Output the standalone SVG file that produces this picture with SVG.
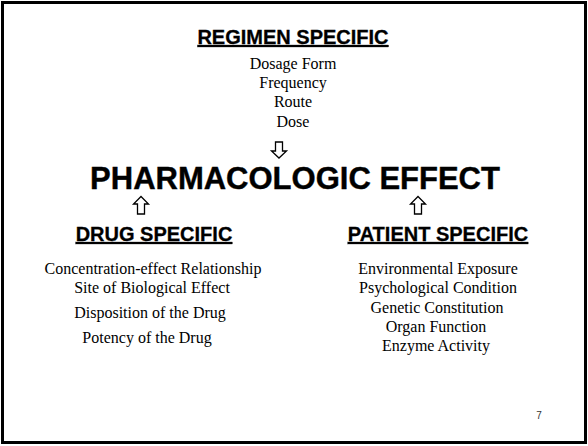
<svg xmlns="http://www.w3.org/2000/svg" width="588" height="446" viewBox="0 0 588 446">
<style>
.h{font-family:"Liberation Sans",Arial,sans-serif;font-weight:bold;font-size:20px;fill:#000;stroke:#000;stroke-width:0.3;text-anchor:middle;text-decoration:underline}
.big{font-family:"Liberation Sans",Arial,sans-serif;font-weight:bold;font-size:31px;fill:#000;stroke:#000;stroke-width:0.4;text-anchor:middle}
.t{font-family:"Liberation Serif","Times New Roman",serif;font-size:16px;fill:#000;text-anchor:middle}
.arr{fill:#fff;stroke:#000;stroke-width:1.3;stroke-linejoin:miter}
</style>
<rect x="0" y="0" width="588" height="446" fill="#fff"/>
<rect x="2.5" y="2.5" width="583" height="440" fill="none" stroke="#000" stroke-width="3"/>
<g id="regimen">
<text class="h" x="293" y="44">REGIMEN SPECIFIC</text>
<text class="t" x="293" y="69">Dosage Form</text>
<text class="t" x="293" y="88">Frequency</text>
<text class="t" x="293" y="107">Route</text>
<text class="t" x="293" y="127">Dose</text>
</g>
<g id="effect">
<text class="big" x="295" y="189">PHARMACOLOGIC EFFECT</text>
</g>
<g id="drug">
<text class="h" x="154" y="241">DRUG SPECIFIC</text>
<text class="t" x="153" y="274">Concentration-effect Relationship</text>
<text class="t" x="152" y="293">Site of Biological Effect</text>
<text class="t" x="150" y="318">Disposition of the Drug</text>
<text class="t" x="147" y="343">Potency of the Drug</text>
</g>
<g id="patient">
<text class="h" x="438" y="241">PATIENT SPECIFIC</text>
<text class="t" x="438" y="274">Environmental Exposure</text>
<text class="t" x="438" y="293">Psychological Condition</text>
<text class="t" x="437" y="313">Genetic Constitution</text>
<text class="t" x="436" y="332">Organ Function</text>
<text class="t" x="436" y="351">Enzyme Activity</text>
</g>
<g id="connectors">
<polygon class="arr" points="275.5,142 282.5,142 282.5,151 286.5,151 279,158 271.5,151 275.5,151"/>
<polygon class="arr" points="137.5,214 144.5,214 144.5,204 148.5,204 141,196.5 133.5,204 137.5,204"/>
<polygon class="arr" points="414.5,214 421.5,214 421.5,204 425.5,204 418,196.5 410.5,204 414.5,204"/>
</g>
<text x="539" y="419" font-family="'Liberation Sans',Arial,sans-serif" font-size="10" fill="#333" text-anchor="middle">7</text>
</svg>
